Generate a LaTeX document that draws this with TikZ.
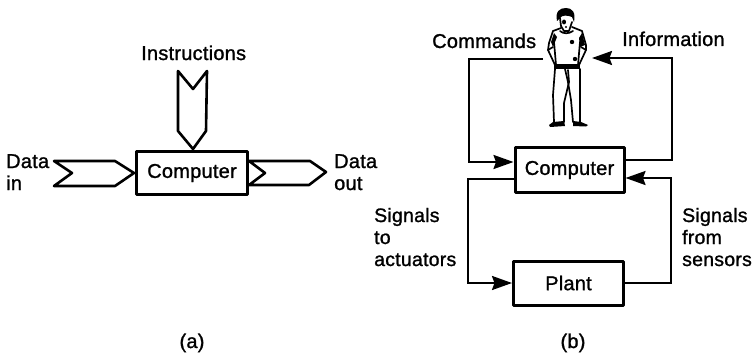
\documentclass[tikz,border=0pt]{standalone}
\usepackage{fontspec}
\setmainfont[RawFeature={embolden=1.2},LetterSpace=1.2]{Liberation Sans}
\usetikzlibrary{arrows.meta}
\tikzset{
  x=1pt,y=-1pt,
  box/.style={draw,line width=3pt,line join=round,minimum width=#1,inner sep=0pt,font=\fontsize{20}{20}\selectfont},
  box/.default=110pt,
  label/.style={inner sep=0pt,anchor=base west,font=\fontsize{20}{20}\selectfont},
  sidelabel/.style={label,font=\fontsize{19.5}{20}\selectfont},
  bus/.style={draw,line width=2.6pt,line join=round},
  wire/.style={line width=2.2pt,line join=miter,-{Stealth[length=20pt,width=14pt,inset=2.5pt]}},
  body/.style={line width=1.7pt,line join=round,line cap=round},
}
\begin{document}
\begin{tikzpicture}
\useasboundingbox (0,0) rectangle (752,353);
% part (a)
\node[box=111pt,minimum height=43pt] (compA) at (192,173) {Computer};
\path[bus] (54,161) -- (115,161) -- (134,173) -- (115,186) -- (54,186) -- (72,173) -- cycle;
\path[bus] (178,71) -- (193,89) -- (207,71) -- (206,131) -- (193,149) -- (178,131) -- cycle;
\path[bus] (249,161) -- (310,161) -- (326,172) -- (309,185) -- (249,185) -- (265,173) -- cycle;
\node[label] (instr) at (141,60) {Instructions};
\node[label] (datain) at (6,168) {Data};
\node[label] (in) at (6,190) {in};
\node[label] (dataout) at (334,168) {Data};
\node[label] (out) at (334,190) {out};
\node[label,anchor=base] (capa) at (192,348) {(a)};
% part (b)
\node[box=109pt,minimum height=45pt] (compB) at (569.5,170) {Computer};
\node[box=110pt,minimum height=44pt] (plant) at (568.5,283) {Plant};
\coordinate (cmd) at (543,59);
\coordinate (info) at (592,58);
\draw[wire] (cmd) -- (469,59) -- (469,162) -- ([yshift=8pt]compB.west);
\draw[wire] ([yshift=10pt]compB.east) -- (672,160) -- (672,58) -- (info);
\draw[wire] ([yshift=-9pt]compB.west) -- (468,179) -- (468,283) -- (plant.west);
\draw[wire] (plant.east) -- (671,283) -- (671,178) -- ([yshift=-8pt]compB.east);
\node[label] (commands) at (432,48) {Commands};
\node[label] (information) at (622,46) {Information};
\node[sidelabel] (s1) at (374,222) {Signals};
\node[sidelabel] (s2) at (374,244) {to};
\node[sidelabel] (s3) at (374,266) {actuators};
\node[sidelabel] (r1) at (682,222) {Signals};
\node[sidelabel] (r2) at (682,244) {from};
\node[sidelabel] (r3) at (682,266) {sensors};
\node[label,anchor=base] (capb) at (573,348) {(b)};
% person
\begin{scope}
 % hair
 \fill (557,21) .. controls (555,11) and (560,8) .. (566,8) .. controls (572,8) and (576,12) .. (574,22) -- (572,17) .. controls (567,15) and (562,15) .. (560,18) -- cycle;
 % face
 \draw[body] (560,18) -- (561,26) -- (564,31) -- (569,31) -- (572,22);
 \fill (564,22) ellipse (2pt and 2.5pt);
 \fill (566,27) circle (1.1pt);
 % shoulders and collar
 \draw[body] (561,28) -- (553,31) -- (549,43) -- (548,50) -- (555,65);
 \draw[body] (572,27) -- (582,31) -- (586,45) -- (586,50) -- (579,65);
 \draw[body] (560,31) .. controls (563,34) and (569,34) .. (573,31);
 % shirt
 \draw[body] (554,42) -- (556,65) -- (578,65) -- (580,42);
 \fill (554,33) -- (551,42) -- (553,47) -- (555,42) -- (557,37) -- cycle;
 \fill (582,33) -- (585,45) -- (580,47) -- (579,38) -- cycle;
 \draw[body] (548,50) -- (553,47);
 \draw[body] (586,50) -- (581,47);
 \fill (572,42) circle (2.2pt);
 \fill (575,59) circle (2.2pt);
 % belt
 \fill (554,65) rectangle (580,69.5);
 % legs
 \draw[body] (555,69) -- (553,95) -- (554,122);
 \draw[body] (580,69) -- (580,122);
 \draw[body] (564,122) -- (564,103) -- (569,82) -- (568,70);
 \draw[body] (573,122) -- (571,100) -- (568,82);
 \draw[body] (565,69) -- (568,82);
 % feet
 \fill (549,125) -- (553,122) -- (564,121) -- (565,126) -- (550,127) -- cycle;
 \fill (573,121) -- (581,122) -- (588,125) -- (586,126.5) -- (573,126) -- cycle;
\end{scope}
\end{tikzpicture}
\end{document}
